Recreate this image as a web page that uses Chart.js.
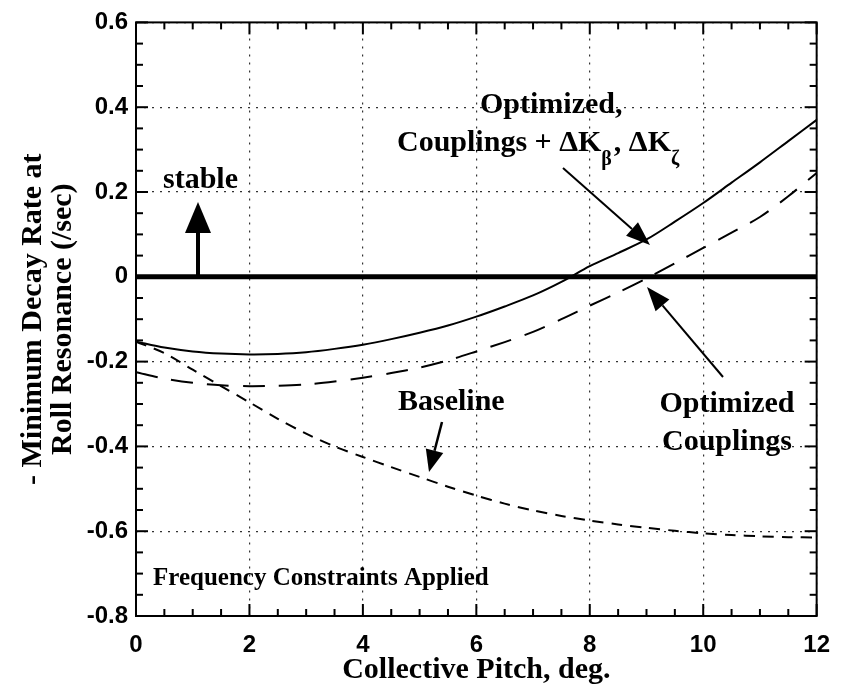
<!DOCTYPE html>
<html>
<head>
<meta charset="utf-8">
<script src="https://cdn.jsdelivr.net/npm/chart.js@4.4.0/dist/chart.umd.min.js"></script>
<style>
  html, body { margin: 0; padding: 0; background: #fff; }
  #wrap { width: 845px; height: 694px; }
</style>
</head>
<body>
<div id="wrap"><canvas id="chart" width="845" height="694"></canvas></div>
<script>
// collective pitch, deg.
const pitch = [0, 0.5, 1, 1.5, 2, 2.5, 3, 3.5, 4, 4.5, 5, 5.5, 6, 6.5, 7, 7.5, 8, 8.5, 9, 9.5, 10, 10.5, 11, 11.5, 12];

// optimized, couplings + dK_beta, dK_zeta (solid)
const optimizedDK = [-0.153, -0.167, -0.176, -0.181, -0.183, -0.182, -0.178, -0.170, -0.160, -0.147, -0.132, -0.115, -0.094,
  -0.070, -0.044, -0.012, 0.025, 0.056, 0.088, 0.130, 0.174, 0.222, 0.270, 0.320, 0.370];

// optimized couplings (long dash)
const optimizedCouplings = [-0.225, -0.240, -0.250, -0.256, -0.258, -0.257, -0.254, -0.247, -0.238, -0.227, -0.214, -0.197, -0.176,
  -0.154, -0.130, -0.100, -0.068, -0.037, -0.004, 0.032, 0.068, 0.104, 0.141, 0.190, 0.245];

// baseline (short dash)
const baseline = [-0.153, -0.180, -0.219, -0.258, -0.296, -0.335, -0.370, -0.400, -0.425, -0.449, -0.472, -0.495, -0.516,
  -0.535, -0.551, -0.564, -0.575, -0.584, -0.592, -0.599, -0.605, -0.609, -0.612, -0.614, -0.615];

// stability boundary
const boundaryX = [0, 12];
const boundaryY = [0, 0];

const xTicks = [0, 2, 4, 6, 8, 10, 12];
const yTicks = [-0.8, -0.6, -0.4, -0.2, 0, 0.2, 0.4, 0.6];

const serif = '"Liberation Serif", "Times New Roman", serif';
const sans = '"Liberation Sans", Arial, sans-serif';

const toPoints = (xs, ys) => xs.map((x, i) => ({ x, y: ys[i] }));

function arrow(ctx, x1, y1, x2, y2, headLen, headHalf, width) {
    const ang = Math.atan2(y2 - y1, x2 - x1);
    const bx = x2 - headLen * Math.cos(ang);
    const by = y2 - headLen * Math.sin(ang);
    ctx.lineWidth = width;
    ctx.beginPath();
    ctx.moveTo(x1, y1);
    ctx.lineTo(bx, by);
    ctx.stroke();
    ctx.beginPath();
    ctx.moveTo(x2, y2);
    ctx.lineTo(bx + headHalf * Math.sin(ang), by - headHalf * Math.cos(ang));
    ctx.lineTo(bx - headHalf * Math.sin(ang), by + headHalf * Math.cos(ang));
    ctx.closePath();
    ctx.fill();
}

const frame = {
    id: 'frame',
    afterDatasetsDraw(chart) {
        const { ctx, chartArea: a, scales: { x, y } } = chart;
        ctx.save();
        ctx.strokeStyle = '#000';
        ctx.lineWidth = 2;
        ctx.strokeRect(a.left, a.top, a.right - a.left, a.bottom - a.top);
        const seg = (x1, y1, x2, y2) => { ctx.beginPath(); ctx.moveTo(x1, y1); ctx.lineTo(x2, y2); ctx.stroke(); };
        // inward minor / major ticks
        for (let i = 0; i <= 24; i++) {
            const px = x.getPixelForValue(i * 0.5);
            const len = i % 4 === 0 ? 12 : 7;
            seg(px, a.bottom, px, a.bottom - len);
            seg(px, a.top, px, a.top + len);
        }
        for (let i = 0; i <= 28; i++) {
            const py = y.getPixelForValue(-0.8 + i * 0.05);
            const len = i % 4 === 0 ? 12 : 7;
            seg(a.left, py, a.left + len, py);
            seg(a.right, py, a.right - len, py);
        }
        ctx.restore();
    },
    afterDraw(chart) {
        const { ctx } = chart;
        ctx.save();
        ctx.fillStyle = '#000';
        ctx.strokeStyle = '#000';
        ctx.textBaseline = 'alphabetic';
        ctx.textAlign = 'left';

        ctx.font = 'bold 30px ' + serif;
        ctx.fillText('stable', 163, 188);
        ctx.fillText('Optimized,', 480, 113);
        ctx.fillText('Baseline', 398, 410);

        // Couplings + ΔKβ, ΔKζ with subscripts
        let cx = 397;
        const base = 151;
        const parts = [['Couplings + \u0394K', false], ['\u03B2', true], [', \u0394K', false], ['\u03B6', true]];
        parts.forEach(([t, sub]) => {
            ctx.font = sub ? 'bold 20px ' + serif : 'bold 30px ' + serif;
            ctx.fillText(t, cx, sub ? base + 14 : base);
            cx += ctx.measureText(t).width + (sub ? 2 : 0);
        });

        ctx.font = 'bold 30px ' + serif;
        ctx.textAlign = 'center';
        ctx.fillText('Optimized', 727, 412);
        ctx.fillText('Couplings', 727, 450);

        ctx.textAlign = 'left';
        ctx.font = 'bold 25px ' + serif;
        ctx.fillText('Frequency Constraints Applied', 153, 585);

        // arrows
        arrow(ctx, 198, 276, 198, 202, 31, 13, 4);
        arrow(ctx, 563, 168, 650, 245, 24, 9, 2);
        arrow(ctx, 723, 377, 647, 287, 24, 9, 2);
        arrow(ctx, 442, 422, 429, 472, 22, 9, 2.5);
        ctx.restore();
    }
};

const ctx = document.getElementById('chart').getContext('2d');
new Chart(ctx, {
    type: 'line',
    data: {
        datasets: [
            { label: 'Stability boundary', data: toPoints(boundaryX, boundaryY), borderColor: '#000', borderWidth: 5, pointRadius: 0 },
            { label: 'Optimized, Couplings + dK', data: toPoints(pitch, optimizedDK), borderColor: '#000', borderWidth: 2, pointRadius: 0, tension: 0.3 },
            { label: 'Optimized Couplings', data: toPoints(pitch, optimizedCouplings), borderColor: '#000', borderWidth: 2, borderDash: [22, 14], pointRadius: 0, tension: 0.3 },
            { label: 'Baseline', data: toPoints(pitch, baseline), borderColor: '#000', borderWidth: 2, borderDash: [11, 8], pointRadius: 0, tension: 0.3 }
        ]
    },
    options: {
        responsive: false,
        animation: false,
        devicePixelRatio: 1,
        layout: { padding: { top: 20, right: 13, left: 0, bottom: 0 } },
        plugins: { legend: { display: false }, tooltip: { enabled: false } },
        scales: {
            x: {
                type: 'linear', min: 0, max: 12,
                afterBuildTicks: s => { s.ticks = xTicks.map(v => ({ value: v })); },
                afterFit: s => { s.height = 78; },
                grid: { color: '#333', lineWidth: 1.2, drawTicks: false },
                border: { display: false, dash: [2, 6] },
                ticks: { color: '#000', padding: 15, font: { family: sans, size: 24, weight: 'bold' } },
                title: { display: true, text: 'Collective Pitch, deg.', color: '#000', padding: { top: 0, bottom: 9 },
                    font: { family: serif, size: 30, weight: 'bold', lineHeight: 1 } }
            },
            y: {
                type: 'linear', min: -0.8, max: 0.6,
                afterBuildTicks: s => { s.ticks = yTicks.map(v => ({ value: v })); },
                afterFit: s => { s.width = 136; },
                grid: { color: '#333', lineWidth: 1.2, drawTicks: false },
                border: { display: false, dash: [2, 6] },
                ticks: {
                    color: '#000', padding: 8, font: { family: sans, size: 24, weight: 'bold' },
                    callback: v => Math.abs(v) < 1e-9 ? '0' : Number(v).toFixed(1)
                },
                title: { display: true, text: ['- Minimum Decay Rate at', 'Roll Resonance (/sec)'], color: '#000',
                    padding: { top: 18, bottom: 0 }, font: { family: serif, size: 30, weight: 'bold', lineHeight: 1 } }
            }
        }
    },
    plugins: [frame]
});
</script>
</body>
</html>
